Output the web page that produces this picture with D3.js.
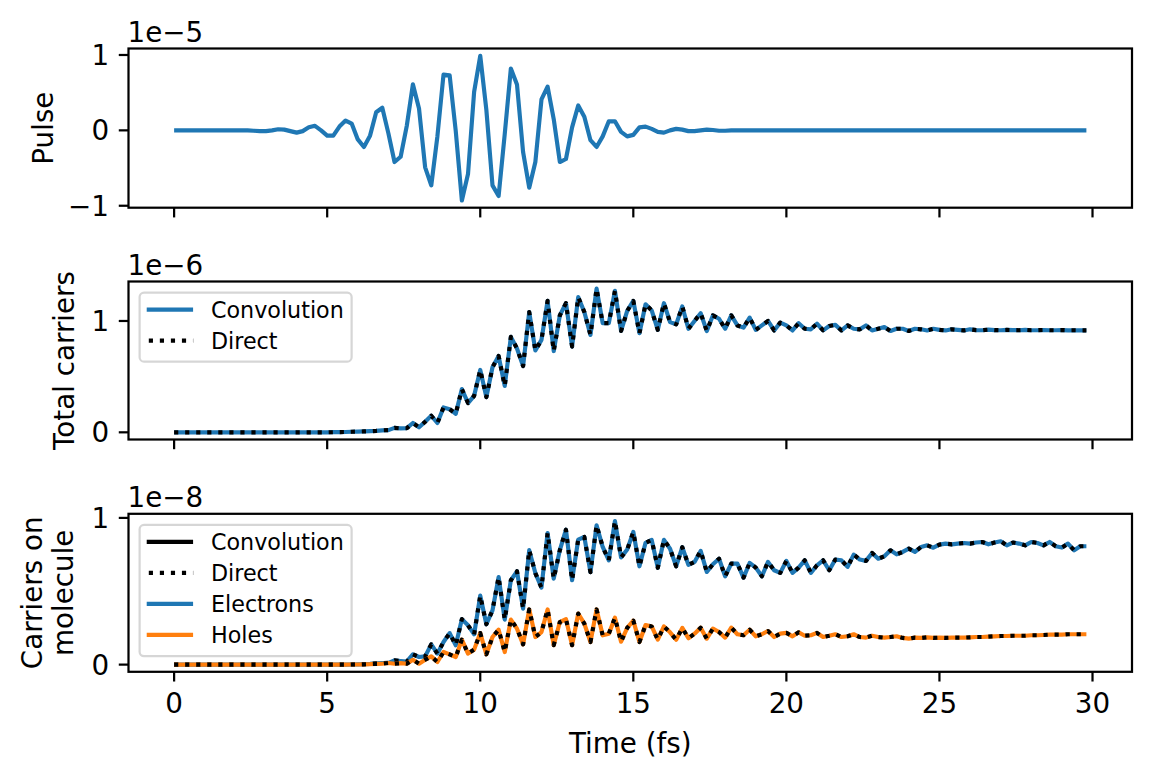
<!DOCTYPE html>
<html>
<head>
<meta charset="utf-8">
<script src="https://cdn.jsdelivr.net/npm/d3@7"></script>
<style>
  html, body { margin: 0; padding: 0; background: #ffffff; }
  svg { display: block; }
  text { font-family: "DejaVu Sans", sans-serif; fill: #000; }
</style>
</head>
<body>
<div id="chart"></div>
<script>
// ---------------- DATA ----------------
const times = [
  0.0, 0.2, 0.4, 0.6, 0.8, 1.0, 1.2, 1.4, 1.6, 1.8,
  2.0, 2.2, 2.4, 2.6, 2.8, 3.0, 3.2, 3.4, 3.6, 3.8,
  4.0, 4.2, 4.4, 4.6, 4.8, 5.0, 5.2, 5.4, 5.6, 5.8,
  6.0, 6.2, 6.4, 6.6, 6.8, 7.0, 7.2, 7.4, 7.6, 7.8,
  8.0, 8.2, 8.4, 8.6, 8.8, 9.0, 9.2, 9.4, 9.6, 9.8,
  10.0, 10.2, 10.4, 10.6, 10.8, 11.0, 11.2, 11.4, 11.6, 11.8,
  12.0, 12.2, 12.4, 12.6, 12.8, 13.0, 13.2, 13.4, 13.6, 13.8,
  14.0, 14.2, 14.4, 14.6, 14.8, 15.0, 15.2, 15.4, 15.6, 15.8,
  16.0, 16.2, 16.4, 16.6, 16.8, 17.0, 17.2, 17.4, 17.6, 17.8,
  18.0, 18.2, 18.4, 18.6, 18.8, 19.0, 19.2, 19.4, 19.6, 19.8,
  20.0, 20.2, 20.4, 20.6, 20.8, 21.0, 21.2, 21.4, 21.6, 21.8,
  22.0, 22.2, 22.4, 22.6, 22.8, 23.0, 23.2, 23.4, 23.6, 23.8,
  24.0, 24.2, 24.4, 24.6, 24.8, 25.0, 25.2, 25.4, 25.6, 25.8,
  26.0, 26.2, 26.4, 26.6, 26.8, 27.0, 27.2, 27.4, 27.6, 27.8,
  28.0, 28.2, 28.4, 28.6, 28.8, 29.0, 29.2, 29.4, 29.6, 29.8
];

// Pulse, in units of 1e-5
const pulse = [
  0, 0, 0, 0, 0, 0, 0, 0, 0, 0,
  0, 0, 0, -0.005, -0.01, -0.01, 0, 0.015, 0.01, -0.01,
  -0.03, -0.01, 0.04, 0.06, 0.0, -0.07, -0.07, 0.05, 0.13, 0.09,
  -0.12, -0.22, -0.07, 0.24, 0.30, -0.04, -0.42, -0.35, 0.06, 0.61,
  0.29, -0.49, -0.73, -0.08, 0.74, 0.73, -0.01, -0.93, -0.58, 0.51,
  0.99, 0.27, -0.73, -0.87, -0.05, 0.82, 0.61, -0.29, -0.76, -0.42,
  0.41, 0.58, 0.15, -0.42, -0.38, 0.04, 0.33, 0.18, -0.13, -0.22,
  -0.08, 0.12, 0.12, -0.02, -0.08, -0.06, 0.04, 0.05, 0.02, -0.02,
  -0.03, 0.0, 0.02, 0.01, -0.01, -0.01, 0.0, 0.01, 0.005, -0.005,
  -0.005, 0, 0, 0, 0, 0, 0, 0, 0, 0,
  0, 0, 0, 0, 0, 0, 0, 0, 0, 0,
  0, 0, 0, 0, 0, 0, 0, 0, 0, 0,
  0, 0, 0, 0, 0, 0, 0, 0, 0, 0,
  0, 0, 0, 0, 0, 0, 0, 0, 0, 0,
  0, 0, 0, 0, 0, 0, 0, 0, 0, 0
];

// Total carriers, in units of 1e-6 (Convolution and Direct coincide)
const totalCarriers = [
  0, 0, 0, 0, 0, 0, 0, 0, 0, 0,
  0, 0, 0, 0, 0, 0, 0, 0, 0, 0,
  0, 0, 0, 0, 0, 0, 0.001, 0.002, 0.003, 0.005,
  0.006, 0.008, 0.01, 0.013, 0.018, 0.02, 0.04, 0.035, 0.037, 0.084,
  0.045, 0.095, 0.149, 0.084, 0.223, 0.208, 0.167, 0.388, 0.263, 0.328,
  0.56, 0.316, 0.584, 0.685, 0.417, 0.857, 0.753, 0.595, 1.08, 0.735,
  0.83, 1.18, 0.73, 1.05, 1.16, 0.77, 1.214, 1.08, 0.875, 1.29,
  0.98, 0.98, 1.27, 0.91, 1.09, 1.18, 0.89, 1.15, 1.095, 0.92,
  1.16, 0.99, 0.97, 1.13, 0.93, 1.0, 1.07, 0.91, 1.05, 1.02,
  0.93, 1.05, 0.96, 0.94, 1.03, 0.92, 0.96, 1.0, 0.915, 0.985,
  0.96, 0.915, 0.98, 0.93, 0.925, 0.975, 0.915, 0.955, 0.965, 0.915,
  0.96, 0.93, 0.925, 0.96, 0.915, 0.93, 0.945, 0.91, 0.93, 0.93,
  0.91, 0.93, 0.925, 0.915, 0.93, 0.92, 0.915, 0.925, 0.92, 0.915,
  0.925, 0.918, 0.917, 0.922, 0.918, 0.917, 0.92, 0.918, 0.917, 0.92,
  0.917, 0.917, 0.919, 0.917, 0.917, 0.918, 0.916, 0.917, 0.916, 0.916
];

// Carriers on molecule, in units of 1e-8
const electrons = [
  0, 0, 0, 0, 0, 0, 0, 0, 0, 0,
  0, 0, 0, 0, 0, 0, 0, 0, 0, 0,
  0, 0, 0, 0, 0, 0, 0, 0, 0, 0.001,
  0.002, 0.003, 0.005, 0.008, 0.011, 0.012, 0.029, 0.025, 0.02, 0.07,
  0.052, 0.056, 0.138, 0.075, 0.154, 0.215, 0.132, 0.31, 0.268, 0.206,
  0.47, 0.275, 0.37, 0.597, 0.307, 0.575, 0.636, 0.382, 0.78, 0.624,
  0.525, 0.897, 0.586, 0.78, 0.92, 0.575, 0.852, 0.87, 0.63, 0.95,
  0.802, 0.711, 0.979, 0.73, 0.784, 0.904, 0.67, 0.83, 0.85, 0.66,
  0.85, 0.79, 0.67, 0.80, 0.68, 0.70, 0.775, 0.632, 0.684, 0.722,
  0.602, 0.688, 0.688, 0.593, 0.693, 0.661, 0.602, 0.70, 0.643, 0.625,
  0.707, 0.625, 0.661, 0.711, 0.625, 0.677, 0.711, 0.643, 0.716, 0.711,
  0.666, 0.75, 0.716, 0.707, 0.761, 0.722, 0.738, 0.779, 0.752, 0.768,
  0.79, 0.768, 0.802, 0.813, 0.797, 0.818, 0.825, 0.82, 0.825, 0.829,
  0.825, 0.832, 0.836, 0.82, 0.832, 0.841, 0.813, 0.832, 0.825, 0.813,
  0.836, 0.829, 0.813, 0.836, 0.807, 0.798, 0.825, 0.779, 0.807, 0.807
];

const holes = [
  0, 0, 0, 0, 0, 0, 0, 0, 0, 0,
  0, 0, 0, 0, 0, 0, 0, 0, 0, 0,
  0, 0, 0, 0, 0, 0, 0, 0, 0, 0.001,
  0.001, 0.002, 0.003, 0.005, 0.006, 0.011, 0.006, 0.01, 0.006, 0.033,
  0.006, 0.033, 0.056, 0.018, 0.086, 0.07, 0.052, 0.17, 0.075, 0.102,
  0.215, 0.07, 0.188, 0.238, 0.086, 0.307, 0.245, 0.138, 0.376, 0.188,
  0.222, 0.376, 0.132, 0.29, 0.31, 0.132, 0.348, 0.28, 0.154, 0.376,
  0.2, 0.211, 0.32, 0.156, 0.25, 0.30, 0.154, 0.27, 0.26, 0.17,
  0.26, 0.22, 0.17, 0.25, 0.18, 0.211, 0.252, 0.177, 0.245, 0.222,
  0.184, 0.252, 0.207, 0.2, 0.238, 0.193, 0.207, 0.229, 0.188, 0.211,
  0.216, 0.193, 0.22, 0.197, 0.2, 0.216, 0.188, 0.197, 0.207, 0.188,
  0.193, 0.207, 0.188, 0.184, 0.197, 0.188, 0.184, 0.188, 0.193, 0.182,
  0.177, 0.184, 0.182, 0.186, 0.182, 0.184, 0.182, 0.184, 0.184, 0.184,
  0.186, 0.188, 0.188, 0.191, 0.193, 0.195, 0.195, 0.197, 0.197, 0.197,
  0.2, 0.2, 0.202, 0.204, 0.204, 0.204, 0.207, 0.207, 0.207, 0.207
];

const xTicks = [0, 5, 10, 15, 20, 25, 30];
const pulseTicks = [-1, 0, 1];
const totalTicks = [0, 1];
const moleculeTicks = [0, 1];
const offsetLabels = ["1e\u22125", "1e\u22126", "1e\u22128"];
const yLabels = [["Pulse"], ["Total carriers"], ["Carriers on", "molecule"]];
const legend1 = ["Convolution", "Direct"];
const legend2 = ["Convolution", "Direct", "Electrons", "Holes"];

// ---------------- LAYOUT / STYLE ----------------
const W = 1153, H = 779;
const PT = 200 / 72;              // px per point at 200 dpi
const LW = 1.5 * PT;              // line width
const SPINE = 0.8 * PT;
const TICKLEN = 3.5 * PT, TICKPAD = 3.5 * PT;
const FS = 10 * PT, LFS = 8 * PT;
const BLUE = "#1f77b4", ORANGE = "#ff7f0e";
const DOT = [1 * LW, 1.65 * LW].join(",");
const xLeft = 128.5, xRight = 1132;

const svg = d3.select("#chart").append("svg")
  .attr("width", W).attr("height", H)
  .attr("viewBox", `0 0 ${W} ${H}`);
svg.append("rect").attr("width", W).attr("height", H).attr("fill", "#fff");

function padded(ext) {
  const r = ext[1] - ext[0];
  return [ext[0] - 0.05 * r, ext[1] + 0.05 * r];
}

const x = d3.scaleLinear().domain(padded(d3.extent(times))).range([xLeft, xRight]);
const fmt = v => (v < 0 ? "\u2212" + Math.abs(v) : String(v));

const panels = [
  { top: 48.5, bottom: 207.7, series: [pulse], ticks: pulseTicks, labelX: [52.5], showX: false },
  { top: 281.5, bottom: 439.5, series: [totalCarriers], ticks: totalTicks, labelX: [74], showX: false },
  { top: 513.8, bottom: 671.8, series: [electrons, holes], ticks: moleculeTicks, labelX: [42, 73.3], showX: true }
];

panels.forEach((p, pi) => {
  const all = p.series.flat();
  const y = d3.scaleLinear().domain(padded(d3.extent(all))).range([p.bottom, p.top]);
  p.y = y;
  const g = svg.append("g");

  const clipId = "clip" + pi;
  svg.append("clipPath").attr("id", clipId).append("rect")
    .attr("x", xLeft).attr("y", p.top).attr("width", xRight - xLeft).attr("height", p.bottom - p.top);

  const line = arr => d3.line().x((d, i) => x(times[i])).y(d => y(d))(arr);
  const plot = g.append("g").attr("clip-path", `url(#${clipId})`);

  if (pi === 0) {
    plot.append("path").attr("d", line(pulse)).attr("fill", "none")
      .attr("stroke", BLUE).attr("stroke-width", LW).attr("stroke-linejoin", "round");
  } else if (pi === 1) {
    plot.append("path").attr("d", line(totalCarriers)).attr("fill", "none")
      .attr("stroke", BLUE).attr("stroke-width", LW).attr("stroke-linejoin", "round");
    plot.append("path").attr("d", line(totalCarriers)).attr("fill", "none")
      .attr("stroke", "#000").attr("stroke-width", LW).attr("stroke-dasharray", DOT)
      .attr("stroke-linecap", "butt").attr("stroke-linejoin", "round");
  } else {
    [[electrons, BLUE], [holes, ORANGE]].forEach(([arr, col]) => {
      plot.append("path").attr("d", line(arr)).attr("fill", "none")
        .attr("stroke", col).attr("stroke-width", LW).attr("stroke-linejoin", "round");
      plot.append("path").attr("d", line(arr)).attr("fill", "none")
        .attr("stroke", "#000").attr("stroke-width", LW).attr("stroke-dasharray", DOT)
        .attr("stroke-linecap", "butt").attr("stroke-linejoin", "round");
    });
  }

  // spines
  g.append("rect").attr("x", xLeft).attr("y", p.top)
    .attr("width", xRight - xLeft).attr("height", p.bottom - p.top)
    .attr("fill", "none").attr("stroke", "#000").attr("stroke-width", SPINE);

  // x ticks
  xTicks.forEach(t => {
    g.append("line").attr("x1", x(t)).attr("x2", x(t))
      .attr("y1", p.bottom).attr("y2", p.bottom + TICKLEN)
      .attr("stroke", "#000").attr("stroke-width", SPINE);
    if (p.showX) {
      g.append("text").attr("x", x(t)).attr("y", 713)
        .attr("text-anchor", "middle").attr("font-size", FS).text(fmt(t));
    }
  });

  // y ticks
  p.ticks.forEach(v => {
    g.append("line").attr("x1", xLeft - TICKLEN).attr("x2", xLeft)
      .attr("y1", y(v)).attr("y2", y(v))
      .attr("stroke", "#000").attr("stroke-width", SPINE);
    g.append("text").attr("x", xLeft - TICKLEN - TICKPAD).attr("y", y(v) + 0.364 * FS)
      .attr("text-anchor", "end").attr("font-size", FS).text(fmt(v));
  });

  // offset text
  g.append("text").attr("x", xLeft - 1).attr("y", p.top - 6.5)
    .attr("font-size", FS).text(offsetLabels[pi]);

  // y label
  const cy = (p.top + p.bottom) / 2;
  yLabels[pi].forEach((txt, li) => {
    g.append("text")
      .attr("transform", `translate(${p.labelX[li]},${cy}) rotate(-90)`)
      .attr("text-anchor", "middle").attr("font-size", FS).text(txt);
  });
});

// x label
svg.append("text").attr("x", (xLeft + xRight) / 2).attr("y", 753)
  .attr("text-anchor", "middle").attr("font-size", FS).text("Time (fs)");

// legends
function drawLegend(p, labels, styles) {
  const pad = 0.5 * LFS;
  const bx = xLeft + pad, by = p.top + pad;
  const rowPitch = 31, first = 17;
  const bh = 17.8 + labels.length * 20.05 + (labels.length - 1) * 11.1;
  svg.append("rect").attr("x", bx).attr("y", by).attr("width", 212).attr("height", bh)
    .attr("rx", 0.2 * LFS).attr("ry", 0.2 * LFS)
    .attr("fill", "#fff").attr("fill-opacity", 0.8)
    .attr("stroke", "#cccccc").attr("stroke-opacity", 0.8).attr("stroke-width", SPINE);
  labels.forEach((lab, i) => {
    const cy = by + first + i * rowPitch;
    const st = styles[i];
    const ln = svg.append("line").attr("x1", 148.8).attr("x2", 193.2)
      .attr("y1", cy).attr("y2", cy).attr("stroke", st.color).attr("stroke-width", LW);
    if (st.dotted) ln.attr("stroke-dasharray", DOT).attr("stroke-linecap", "butt");
    else ln.attr("stroke-linecap", "square").attr("x2", 191);
    svg.append("text").attr("x", 211).attr("y", cy + 8.5)
      .attr("font-size", LFS).text(lab);
  });
}
drawLegend(panels[1], legend1, [{ color: BLUE }, { color: "#000", dotted: true }]);
drawLegend(panels[2], legend2, [{ color: "#000" }, { color: "#000", dotted: true }, { color: BLUE }, { color: ORANGE }]);
</script>
</body>
</html>
